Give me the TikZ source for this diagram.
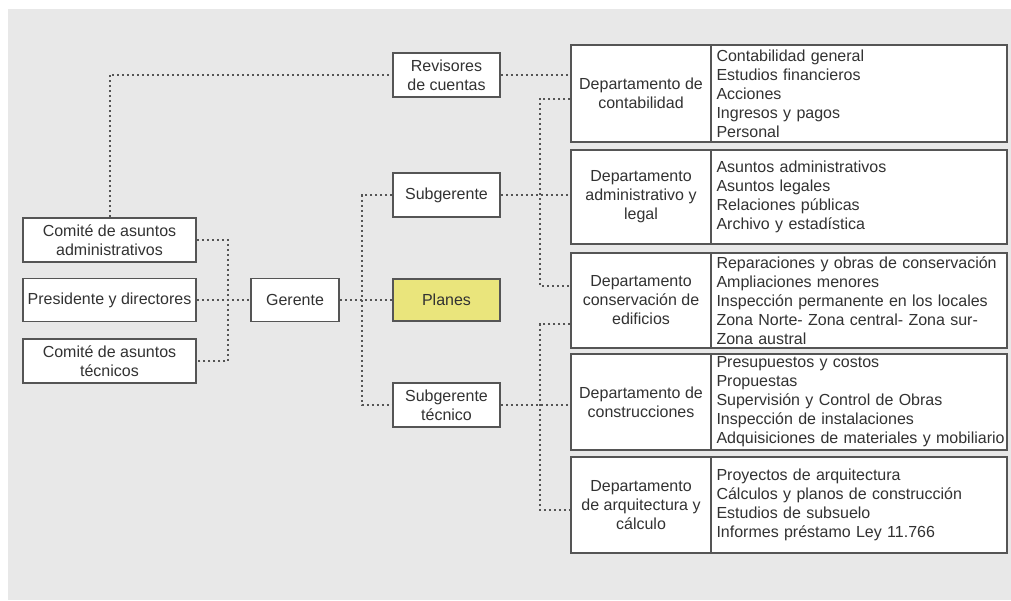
\documentclass[tikz,border=0pt]{standalone}
\usepackage{fontspec}
\setmainfont{Liberation Sans}
\definecolor{bggray}{RGB}{232,232,232}
\definecolor{boxline}{RGB}{85,85,85}
\definecolor{txtgray}{RGB}{50,50,50}
\definecolor{planesyellow}{RGB}{234,229,124}
\tikzset{
    box/.style={draw=boxline, line width=1.5pt, fill=white, align=center, inner sep=2pt, text=txtgray},
    deptbox/.style={box, minimum width=140pt},
    listbox/.style={box, minimum width=296pt, text width=291pt, inner xsep=2.5pt, align=left},
    link/.style={draw=boxline, line width=2pt, dash pattern=on 2pt off 3pt},
}

\begin{document}
\begin{tikzpicture}[x=1pt, y=-1pt, font=\fontsize{16}{19}\selectfont]
    \useasboundingbox (0,0) rectangle (1011,600);
    \fill[bggray] (8,9) rectangle (1011,600);

    % izquierda
    \node[box, minimum width=173pt, minimum height=44pt] (cadm) at (109.5,240) {Comité de asuntos\\administrativos};
    \node[box, minimum width=173pt, minimum height=43pt] (pres) at (109.5,300) {Presidente y directores};
    \node[box, minimum width=173pt, minimum height=44pt] (ctec) at (109.5,361) {Comité de asuntos\\técnicos};
    \node[box, minimum width=88pt, minimum height=43pt] (ger) at (295,300) {Gerente};

    % centro
    \node[box, minimum width=107pt, minimum height=44pt] (rev) at (446.5,75) {Revisores\\de cuentas};
    \node[box, minimum width=107pt, minimum height=44pt] (subg) at (446.5,195) {Subgerente};
    \node[box, fill=planesyellow, minimum width=107pt, minimum height=42pt] (planes) at (446.5,300) {Planes};
    \node[box, minimum width=107pt, minimum height=44pt] (subgt) at (446.5,405) {Subgerente\\técnico};

    % departamentos
    \node[deptbox, minimum height=97pt] (dcont) at (641,93.5) {Departamento de\\contabilidad};
    \node[listbox, minimum height=97pt] (lcont) at (859,93.5) {\hspace*{3pt}Contabilidad general\\\hspace*{3pt}Estudios financieros\\\hspace*{3pt}Acciones\\\hspace*{3pt}Ingresos y pagos\\\hspace*{3pt}Personal};
    \node[deptbox, minimum height=94pt] (dadm) at (641,197) {Departamento\\administrativo y\\legal};
    \node[listbox, minimum height=94pt] (ladm) at (859,197) {\hspace*{3pt}Asuntos administrativos\\\hspace*{3pt}Asuntos legales\\\hspace*{3pt}Relaciones públicas\\\hspace*{3pt}Archivo y estadística};
    \node[deptbox, minimum height=95pt] (dcons) at (641,300.5) {Departamento\\conservación de\\edificios};
    \node[listbox, minimum height=95pt] (lcons) at (859,300.5) {\hspace*{3pt}Reparaciones y obras de conservación\\\hspace*{3pt}Ampliaciones menores\\\hspace*{3pt}Inspección permanente en los locales\\\hspace*{3pt}Zona Norte- Zona central- Zona sur-\\\hspace*{3pt}Zona austral};
    \node[deptbox, minimum height=96pt] (dconst) at (641,402) {Departamento de\\construcciones};
    \node[listbox, minimum height=96pt] (lconst) at (859,402) {\hspace*{3pt}Presupuestos y costos\\\hspace*{3pt}Propuestas\\\hspace*{3pt}Supervisión y Control de Obras\\\hspace*{3pt}Inspección de instalaciones\\\hspace*{3pt}\mbox{Adquisiciones de materiales y mobiliario}};
    \node[deptbox, minimum height=96pt] (darq) at (641,505) {Departamento\\de arquitectura y\\cálculo};
    \node[listbox, minimum height=96pt] (larq) at (859,505) {\hspace*{3pt}Proyectos de arquitectura\\\hspace*{3pt}Cálculos y planos de construcción\\\hspace*{3pt}Estudios de subsuelo\\\hspace*{3pt}Informes préstamo Ley 11.766};

    \coordinate (brk) at (228,300);
    \coordinate (spine) at (362,300);
    \coordinate (up) at (540,196);
    \coordinate (lo) at (540,405);

    % conectores
    \draw[link] (cadm.north) |- (rev.west);
    \draw[link] (rev.east) -- (rev.east -| dcont.west);
    \draw[link] (cadm.east) -| (brk) |- (ctec.east);
    \draw[link] (pres.east) -- (ger.west);
    \draw[link] (ger.east) -- (planes.west);
    \draw[link] (subg.west) -| (spine) |- (subgt.west);
    \draw[link] (subg.east) -- (subg.east -| dadm.west);
    \draw[link] ([yshift=-5pt]dcont.west) -| (up) |- ([yshift=14.5pt]dcons.west);
    \draw[link] (subgt.east) -- (subgt.east -| dconst.west);
    \draw[link] ([yshift=-23.5pt]dcons.west) -| (lo) |- ([yshift=-5pt]darq.west);
\end{tikzpicture}
\end{document}
